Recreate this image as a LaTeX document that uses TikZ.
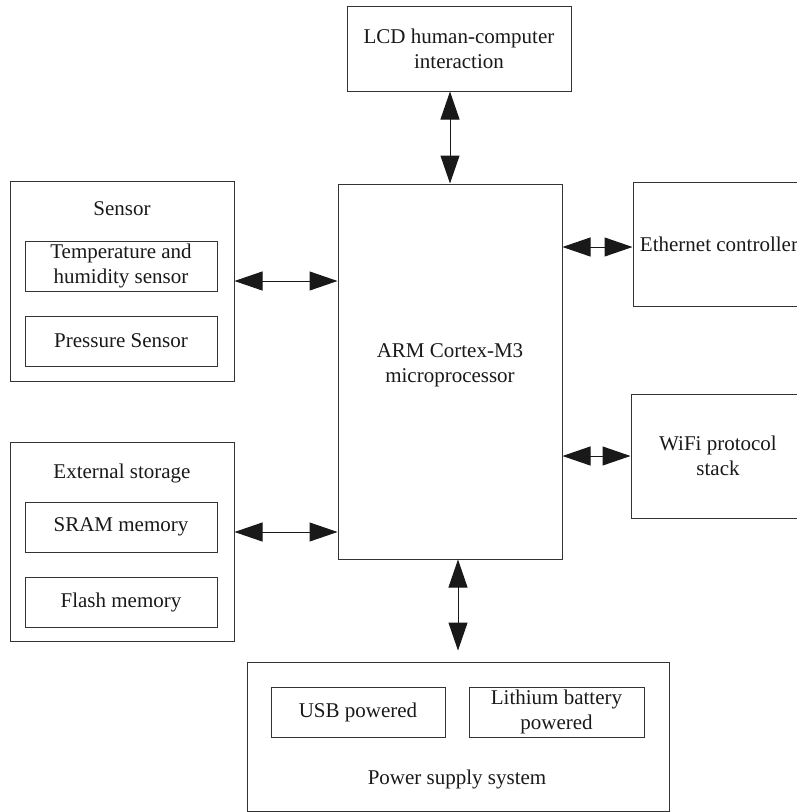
\documentclass[tikz,border=0pt]{standalone}
\usepackage{fontspec}
\setmainfont{Liberation Serif}
\usetikzlibrary{arrows.meta}
\begin{document}
\begin{tikzpicture}[x=1pt,y=-1pt,
  box/.style={draw=black!80, line width=1pt, rectangle, inner sep=0pt, align=center,
              text=black!90, font=\fontsize{21}{25}\selectfont},
  lbl/.style={inner sep=0pt, align=center, text=black!90, font=\fontsize{21}{25}\selectfont},
  link/.style={draw=black!90, line width=1pt,
               {Triangle[length=28pt,width=19pt]}-{Triangle[length=28pt,width=19pt]}}]
\useasboundingbox (0,0) rectangle (797,812);
\clip (0,0) rectangle (797,812);

% main blocks
\node[box, minimum width=224pt, minimum height=85pt] (lcd) at (459,48.5)
  {LCD human-computer\\interaction};
\node[box, minimum width=224pt, minimum height=375pt] (main) at (450,371.5) {};
\node[lbl] (mainlbl) at (450,365) {ARM Cortex-M3\\microprocessor};

% sensor group
\node[box, minimum width=224pt, minimum height=200pt] (sensor) at (122,281) {};
\node[lbl] (sensorlbl) at (122,209) {Sensor};
\node[box, minimum width=192pt, minimum height=50pt] (temp) at (121,266)
  {Temperature and\\humidity sensor};
\node[box, minimum width=192pt, minimum height=50pt] (press) at (121,341)
  {Pressure Sensor};

% storage group
\node[box, minimum width=224pt, minimum height=199pt] (ext) at (122,541.5) {};
\node[lbl] (extlbl) at (122,473) {External storage};
\node[box, minimum width=192pt, minimum height=50pt] (sram) at (121,527)
  {SRAM memory};
\node[box, minimum width=192pt, minimum height=50pt] (flash) at (121,602)
  {Flash memory};

% right side
\node[box, minimum width=172pt, minimum height=124pt] (eth) at (719,244)
  {Ethernet controller};
\node[box, minimum width=174pt, minimum height=124pt] (wifi) at (718,456)
  {WiFi protocol\\stack};

% power group
\node[box, minimum width=422pt, minimum height=149pt] (power) at (458,736.5) {};
\node[box, minimum width=174pt, minimum height=50pt] (usb) at (358,712)
  {USB powered};
\node[box, minimum width=175pt, minimum height=50pt] (lith) at (556.5,712)
  {Lithium battery\\powered};
\node[lbl] (powlbl) at (457,779) {Power supply system};

% connectors
\draw[link] (lcd.south -| main.north) -- (main.north);
\draw[link] (sensor.east) -- (sensor.east -| main.west);
\draw[link] ([yshift=-5pt]ext.east |- sram.east) -- ([yshift=-5pt]sram.east -| main.west);
\draw[link] ([yshift=-3pt]eth.west -| main.east) -- ([yshift=-3pt]eth.west);
\draw[link] (wifi.west -| main.east) -- (wifi.west);
\draw[link, shorten >=11pt] (power.north |- main.south) -- (power.north);
\end{tikzpicture}
\end{document}
